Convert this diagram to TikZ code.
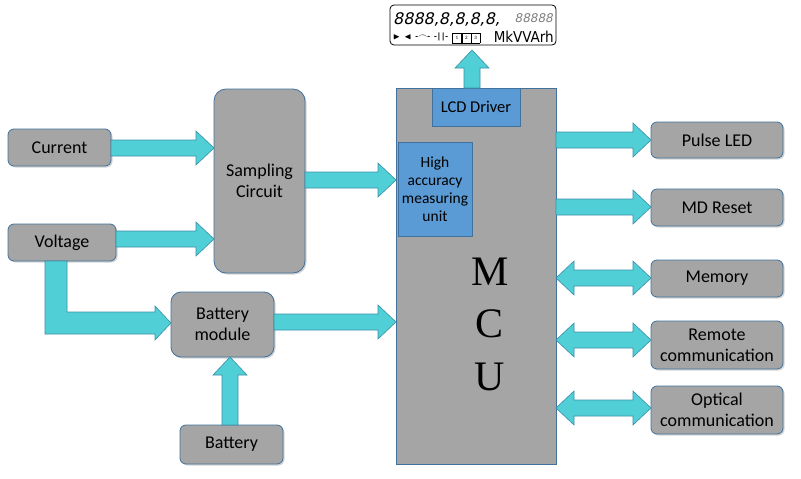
\documentclass[tikz,border=0pt]{standalone}
\usepackage{amssymb}
\usepackage{fontspec}
\setmainfont{Carlito}
\newfontfamily\lcdf{DejaVu Sans}[FakeSlant=0.2]
\usetikzlibrary{shadows}
\definecolor{boxg}{HTML}{A5A5A5}
\definecolor{boxb}{HTML}{41719C}
\definecolor{teal}{HTML}{50D0D6}
\definecolor{tealb}{HTML}{3A8FA8}
\definecolor{blu}{HTML}{5B9BD5}
\tikzset{
 box/.style={draw=boxb,fill=boxg,rounded corners=6pt,line width=0.8pt,font=\fontsize{18}{21}\selectfont,align=center,inner sep=0pt,drop shadow={shadow xshift=1.5pt,shadow yshift=-1.5pt,opacity=0.35}},
 blk/.style={fill=teal,draw=tealb,line width=0.6pt},
}
\newcommand\arrR[3]{\draw[blk] (#1,#3-8)--(#2-18,#3-8)--(#2-18,#3-17)--(#2,#3)--(#2-18,#3+17)--(#2-18,#3+8)--(#1,#3+8)--cycle;}
\newcommand\arrLR[3]{\draw[blk] (#1+18,#3-8)--(#2-18,#3-8)--(#2-18,#3-17)--(#2,#3)--(#2-18,#3+17)--(#2-18,#3+8)--(#1+18,#3+8)--(#1+18,#3+17)--(#1,#3)--(#1+18,#3-17)--cycle;}
\newcommand\arrU[3]{\draw[blk] (#3-8,#1)--(#3-8,#2+18)--(#3-17,#2+18)--(#3,#2)--(#3+17,#2+18)--(#3+8,#2+18)--(#3+8,#1)--cycle;}
\begin{document}
\begin{tikzpicture}[x=1pt,y=-1pt]
\useasboundingbox (0,0) rectangle (801,479);
\node[box,minimum width=103pt,minimum height=37pt] (cur) at (59.5,147.5) {Current};
\node[box,minimum width=108pt,minimum height=37pt] (vol) at (62,242.5) {Voltage};
\node[box,minimum width=91pt,minimum height=184pt,rounded corners=12pt] (samp) at (259.5,181) {Sampling\\Circuit};
\node[box,minimum width=103pt,minimum height=65pt,rounded corners=10pt] (bm) at (222.5,324.5) {Battery\\module};
\node[box,minimum width=103pt,minimum height=39pt] (bat) at (231.5,444.5) {Battery};
\node[draw=boxb,fill=boxg,minimum width=160pt,minimum height=376pt,inner sep=0pt,line width=0.8pt] (mcu) at (476,276) {};
\node[font=\fontsize{42}{46}\selectfont\fontspec{Liberation Serif}] (m) at (490,272) {M};
\node[font=\fontsize{42}{46}\selectfont\fontspec{Liberation Serif}] (c) at (490,324) {C};
\node[font=\fontsize{42}{46}\selectfont\fontspec{Liberation Serif}] (u) at (490,377) {U};
\node[draw=boxb,fill=blu,minimum width=88pt,minimum height=38pt,inner sep=0pt,font=\fontsize{16.5}{19}\selectfont] (lcd) at (476,107) {LCD Driver};
\node[draw=boxb,fill=blu,minimum width=74pt,minimum height=94pt,inner sep=0pt,align=center,font=\fontsize{15.5}{18}\selectfont] (hi) at (435,189) {High\\accuracy\\measuring\\unit};
\node[box,minimum width=132pt,minimum height=36pt] (pl) at (717,140) {Pulse LED};
\node[box,minimum width=132pt,minimum height=37pt] (md) at (717,207.5) {MD Reset};
\node[box,minimum width=132pt,minimum height=37pt] (mem) at (717,278.5) {Memory};
\node[box,minimum width=132pt,minimum height=48pt,font=\fontsize{18}{21}\selectfont] (rem) at (717,345) {Remote\\communication};
\node[box,minimum width=132pt,minimum height=48pt,font=\fontsize{18}{21}\selectfont] (opt) at (717,410) {Optical\\communication};
\draw[rounded corners=4pt,line width=0.8pt,fill=white] (390,5) rectangle (556,45);
\node[anchor=west,inner sep=0pt,font=\fontsize{16}{16}\selectfont\lcdf] (dg) at (393,19) {8888,8,8,8,8,};
\node[anchor=east,inner sep=0pt,font=\fontsize{12}{12}\selectfont\lcdf,text=gray] (dg2) at (553,18) {88888};
\node[anchor=west,inner sep=0pt,font=\fontsize{9}{9}\selectfont] (sym) at (393,38) {$\blacktriangleright$\ \ $\blacktriangleleft$\ \ \textbf{-\raisebox{1pt}{$\frown$}-}\ \ \textbf{-||-}\ \ \fbox{\tiny1}\fbox{\tiny2}\fbox{\tiny3}};
\node[anchor=east,inner sep=0pt,font=\fontsize{15}{15}\selectfont\fontspec{DejaVu Sans Condensed}] (unit) at (554,37) {MkVVArh};
\arrR{111}{214}{148}
\arrR{116}{214}{239}
\arrR{305}{396}{180}
\arrR{274}{396}{322}
\draw[blk] (45,261)--(45,334)--(155,334)--(155,340)--(171,323)--(155,306)--(155,312)--(67,312)--(67,261)--cycle;
\arrU{425}{357}{230}
\arrU{88}{50}{472}
\arrR{556}{651}{140}
\arrR{556}{651}{207}
\arrLR{556}{651}{278}
\arrLR{556}{651}{340}
\arrLR{556}{651}{408}
\end{tikzpicture}
\end{document}
